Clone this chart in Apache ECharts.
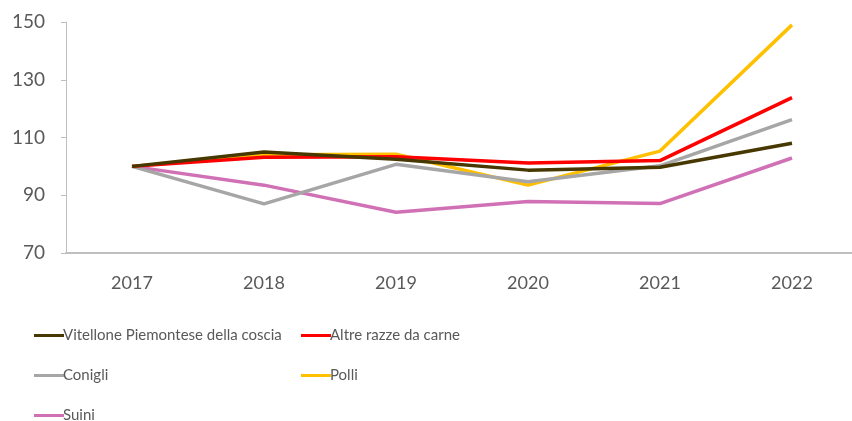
<!DOCTYPE html>
<html>
<head>
<meta charset="utf-8">
<script src="https://cdn.jsdelivr.net/npm/echarts@6/dist/echarts.min.js"></script>
<style>
    html, body { margin: 0; padding: 0; background: #fff; }
    #chart { width: 852px; height: 421px; }
</style>
</head>
<body>
<div id="chart"></div>
<script>
    // dati (indice 2017 = 100)
    var anni = ['2017', '2018', '2019', '2020', '2021', '2022'];
    var vitellone = [100, 105, 102.5, 98.7, 99.7, 108];
    var altreRazze = [100, 103.2, 103.3, 101.2, 102, 123.8];
    var conigli = [100, 87, 100.7, 94.7, 100.2, 116.2];
    var polli = [100, 104, 104.2, 93.5, 105.3, 149];
    var suini = [100, 93.5, 84.1, 87.8, 87.1, 102.9];
    var yTicks = [70, 90, 110, 130, 150];

    var nomi = ['Vitellone Piemontese della coscia', 'Altre razze da carne', 'Conigli', 'Polli', 'Suini'];
    var colori = ['#463800', '#FF0000', '#A6A6A6', '#FFC000', '#D071B6'];
    var valori = [vitellone, altreRazze, conigli, polli, suini];
    // posizione di ogni voce di legenda (due colonne)
    var legendPos = [[29, 323], [296, 323], [29, 363], [296, 363], [29, 403]];

    var font = 'Lato, sans-serif';

    var chart = echarts.init(document.getElementById('chart'));
    var option = {
        animation: false,
        grid: { left: 66, width: 792, top: 22, bottom: 168, outerBoundsMode: 'none' },
        legend: nomi.map(function (n, i) {
            return {
                left: legendPos[i][0],
                top: legendPos[i][1],
                data: [n],
                itemWidth: 30,
                itemHeight: 3,
                icon: 'rect',
                textStyle: { color: '#595959', fontSize: 15, fontFamily: font, padding: [0, 0, 0, -6] }
            };
        }),
        xAxis: {
            type: 'category',
            data: anni,
            boundaryGap: true,
            axisLine: { lineStyle: { color: '#BFBFBF', width: 2 } },
            axisTick: { show: false },
            axisLabel: { color: '#595959', fontSize: 18, fontFamily: font, margin: 21 }
        },
        yAxis: {
            type: 'value',
            min: yTicks[0],
            max: yTicks[yTicks.length - 1],
            interval: 20,
            splitLine: { show: false },
            axisLine: { show: true, lineStyle: { color: '#BFBFBF', width: 1 } },
            axisTick: { show: true, length: 5, lineStyle: { color: '#BFBFBF' } },
            axisLabel: { color: '#595959', fontSize: 19, fontFamily: font, margin: 21 }
        },
        series: nomi.map(function (n, i) {
            return {
                name: n,
                type: 'line',
                data: valori[i],
                symbol: 'none',
                z: 10 - i,
                lineStyle: { color: colori[i], width: 3.5 },
                itemStyle: { color: colori[i] }
            };
        })
    };
    chart.setOption(option);
</script>
</body>
</html>
